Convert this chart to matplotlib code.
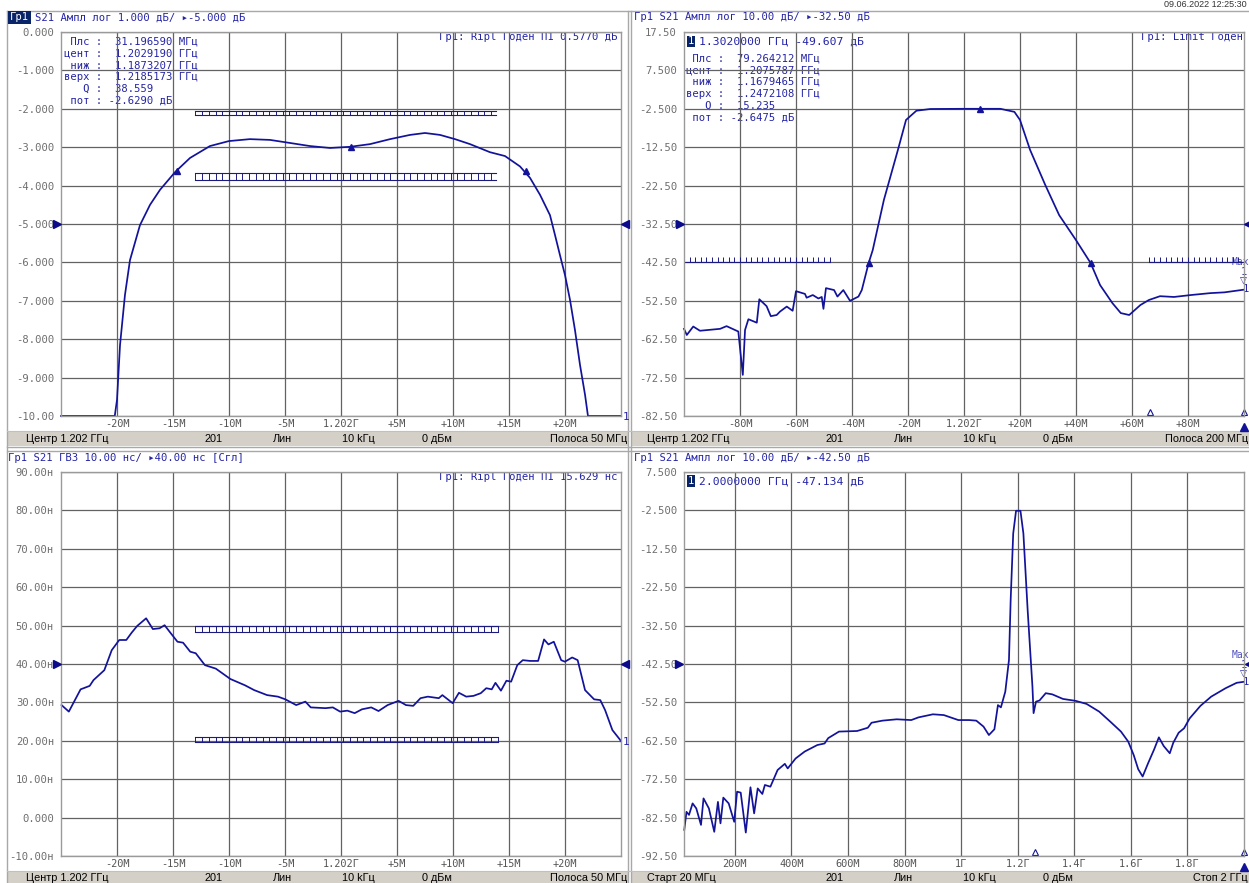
import matplotlib
matplotlib.use('Agg')
import matplotlib.pyplot as plt
from matplotlib.patches import Rectangle
import numpy as np

W, H = 1249, 883
MONO = ['DejaVu Sans Mono', 'DejaVu Sans']
SANS = ['Liberation Sans', 'DejaVu Sans']
TRACE = '#12129a'
TXT = '#2424a6'
GRID = '#626262'
LBL = '#6e6e6e'

# ---- top-left: S21 magnitude, centre 1.202 GHz, span 50 MHz (offset in MHz) ----
tl_df = [-25, -20.2, -20.0, -19.73, -19.29, -18.84, -17.95, -17.05, -16.16, -14.82, -13.48,
         -11.70, -10.0, -8.13, -6.34, -4.55, -2.77, -0.98, 0.80, 2.59, 4.38, 6.16, 7.5, 8.84,
         10.18, 11.52, 13.30, 14.64, 15.98, 16.88, 17.77, 18.66, 19.11, 19.55, 20.0, 20.45,
         20.89, 21.34, 21.79, 22.05, 25]
tl_db = [-10, -10, -9.58, -8.15, -6.85, -5.94, -5.03, -4.5, -4.11, -3.65, -3.28,
         -2.97, -2.84, -2.79, -2.81, -2.89, -2.97, -3.02, -2.99, -2.92, -2.79, -2.68, -2.63, -2.68,
         -2.79, -2.92, -3.13, -3.23, -3.50, -3.80, -4.24, -4.77, -5.29, -5.81, -6.33, -6.98,
         -7.76, -8.67, -9.45, -10, -10]
tl_mk_df = [-14.68, 0.92, 16.52]
tl_mk_db = [-3.63, -3.0, -3.63]
tl_lim_span = [-13.0, 13.8]
tl_lim_hi = [-2.05, -2.17]
tl_lim_lo = [-3.68, -3.85]

# ---- top-right: S21 magnitude, centre 1.202 GHz, span 200 MHz ----
tr_df = [-100, -99, -96.7, -94.3, -87.1, -84.8, -80.6, -79.8, -79.0, -78.2, -77.0, -74.0, -73.1,
         -70.5, -69.0, -66.9, -65.7, -63.3, -61.2, -60.0, -56.8, -56.2, -54.0, -52.0, -50.8, -50.2,
         -49.3, -46.4, -45.2, -43.1, -40.7, -37.7, -36.5, -34.05, -32.6, -28.6, -23.6, -20.7, -17,
         -12, 0, 13, 18, 20, 23.6, 29, 34, 40, 45.21, 48.6, 53, 56, 59, 63, 66, 70, 75, 81, 88, 93, 100]
tr_db = [-59.8, -61.4, -59.2, -60.3, -59.8, -59.1, -60.5, -66.2, -71.8, -60.1, -57.3, -58.2, -52.1,
         -53.9, -56.5, -56.2, -55.3, -54.0, -55.1, -50.0, -50.7, -51.7, -51.0, -51.9, -51.5, -54.6,
         -49.2, -49.7, -51.4, -49.7, -52.5, -51.4, -49.7, -42.65, -39.3, -26.2, -13.2, -5.4, -3.0,
         -2.55, -2.5, -2.5, -3.3, -5.4, -13.2, -22.3, -30.2, -36.7, -42.65, -48.4, -53.1, -55.7,
         -56.2, -53.6, -52.3, -51.3, -51.5, -51.0, -50.5, -50.3, -49.6]
tr_mk_df = [5.58, -34.05, 45.21]
tr_mk_db = [-2.65, -42.65, -42.65]
tr_lim_left = [-100, -48]
tr_lim_right = [66, 100]
tr_lim_db = -42.5

# ---- bottom-left: group delay, ns ----
bl_df = [-24.95, -24.3, -23.25, -22.44, -22.1, -21.13, -20.47, -19.8, -19.17, -18.68, -18.2, -17.4,
         -16.8, -16.2, -15.75, -15.25, -14.6, -14.1, -13.46, -12.97, -12.15, -11.18, -9.88, -8.57,
         -7.75, -6.6, -5.63, -4.97, -4.0, -3.18, -2.7, -1.38, -0.73, -0.08, 0.57, 1.22, 1.87, 2.7,
         3.35, 4.16, 5.14, 5.8, 6.45, 7.1, 7.75, 8.73, 9.05, 9.97, 10.53, 11.18, 11.83, 12.48,
         12.97, 13.46, 13.79, 14.28, 14.77, 15.19, 15.74, 16.23, 16.88, 17.6, 18.13, 18.52, 19.0,
         19.66, 19.99, 20.64, 21.13, 21.79, 22.6, 23.15, 23.58, 24.23, 24.88, 25.0]
bl_ns = [29.3, 27.6, 33.4, 34.3, 35.8, 38.4, 43.6, 46.25, 46.25, 48.2, 49.9, 51.9,
         49.1, 49.3, 50.1, 48.2, 45.8, 45.55, 43.2, 42.8, 39.7, 38.8, 36.1, 34.45,
         33.2, 31.9, 31.5, 30.8, 29.3, 30.2, 28.7, 28.5, 28.7, 27.6, 27.85, 27.2, 28.2, 28.7,
         27.75, 29.3, 30.4, 29.3, 29.1, 31.1, 31.5, 31.1, 31.9, 29.8, 32.5, 31.5, 31.7, 32.4,
         33.7, 33.4, 35.1, 33.05, 35.65, 35.4, 39.7, 41.0, 40.8, 40.8, 46.4, 45.1, 45.8,
         41.0, 40.6, 41.7, 41.0, 33.2, 30.8, 30.6, 28.0, 22.8, 20.4, 19.9]
bl_lim_span = [-13.0, 14.0]
bl_lim_hi = [49.9, 48.3]
bl_lim_lo = [21.1, 19.7]

# ---- bottom-right: S21 magnitude, 20 MHz .. 2 GHz ----
br_f = [21, 28.8, 37.7, 50.4, 63.4, 80.1, 89, 108, 127, 140, 149, 159, 178, 197.5, 207.7, 220.5,
        238.5, 255, 268, 280.6, 297, 306, 325.5, 351, 376.5, 386.7, 414.6, 446.7, 491.4, 517, 530,
        568, 632, 670, 683, 721.5, 772, 823.5, 849, 900, 938.6, 990, 1028, 1053.5, 1079, 1098,
        1117.5, 1130, 1140.5, 1156, 1169, 1175, 1184, 1194, 1209.6, 1220, 1235, 1252, 1256, 1264.6,
        1277, 1299, 1322, 1360, 1405, 1443.5, 1488, 1527, 1565, 1590.6, 1610, 1626, 1641.6, 1660.6,
        1682.5, 1699, 1716, 1737.5, 1750, 1769, 1788, 1808, 1846, 1884, 1935, 1974, 2000]
br_db = [-85.7, -81.0, -81.8, -78.8, -80.1, -84.4, -77.5, -80.1, -86.2, -78.4, -84.0, -77.3, -78.8,
         -83.6, -75.75, -76.0, -86.4, -74.6, -81.4, -74.9, -76.35, -74.0, -74.45, -70.1, -68.5,
         -69.7, -67.1, -65.3, -63.6, -63.2, -61.8, -60.1, -59.95, -59.1, -57.8, -57.25, -56.9,
         -57.1, -56.4, -55.6, -55.8, -57.1, -57.1, -57.25, -58.8, -61.0, -59.5, -53.2, -53.8,
         -49.7, -41.45, -25.8, -8.5, -2.6, -2.6, -8.5, -28.4, -48.4, -55.3, -52.3, -52.0, -50.1,
         -50.4, -51.6, -52.1, -52.9, -54.9, -57.5, -60.1, -62.7, -66.2, -69.9, -71.8, -68.4,
         -64.7, -61.6, -63.85, -65.75, -63.0, -60.4, -59.25, -56.65, -53.4, -51.0, -48.8, -47.4,
         -47.13]

# axis ticks / labels
off50_ticks = [-20, -15, -10, -5, 0, 5, 10, 15, 20]
off50_labels = ['-20М', '-15М', '-10М', '-5М', '1.202Г', '+5М', '+10М', '+15М', '+20М']
off200_ticks = [-80, -60, -40, -20, 0, 20, 40, 60, 80]
off200_labels = ['-80М', '-60М', '-40М', '-20М', '1.202Г', '+20М', '+40М', '+60М', '+80М']
br_ticks = [200, 400, 600, 800, 1000, 1200, 1400, 1600, 1800]
br_labels = ['200М', '400М', '600М', '800М', '1Г', '1.2Г', '1.4Г', '1.6Г', '1.8Г']
tl_yticks = [0, -1, -2, -3, -4, -5, -6, -7, -8, -9, -10]
tl_ylabels = ['0.000', '-1.000', '-2.000', '-3.000', '-4.000', '-5.000', '-6.000',
              '-7.000', '-8.000', '-9.000', '-10.00']
tr_yticks = [17.5, 7.5, -2.5, -12.5, -22.5, -32.5, -42.5, -52.5, -62.5, -72.5, -82.5]
tr_ylabels = ['17.50', '7.500', '-2.500', '-12.50', '-22.50', '-32.50', '-42.50',
              '-52.50', '-62.50', '-72.50', '-82.50']
bl_yticks = [90, 80, 70, 60, 50, 40, 30, 20, 10, 0, -10]
bl_ylabels = ['90.00н', '80.00н', '70.00н', '60.00н', '50.00н', '40.00н', '30.00н',
              '20.00н', '10.00н', '0.000', '-10.00н']
br_yticks = [7.5, -2.5, -12.5, -22.5, -32.5, -42.5, -52.5, -62.5, -72.5, -82.5, -92.5]
br_ylabels = ['7.500', '-2.500', '-12.50', '-22.50', '-32.50', '-42.50', '-52.50',
              '-62.50', '-72.50', '-82.50', '-92.50']

fig = plt.figure(figsize=(W / 100, H / 100), dpi=100)
fig.patch.set_facecolor('white')

# background layer in pixel coordinates for window chrome
bg = fig.add_axes([0, 0, 1, 1])
bg.set_xlim(0, W)
bg.set_ylim(H, 0)
bg.axis('off')


def T(x, y, s, size=7.6, color=TXT, ha='left', fam=MONO, **kw):
    bg.text(x, y, s, fontsize=size, color=color, ha=ha, va='center', family=fam, **kw)


# status bars and separators
for x0, y0, w, h in [(8, 431, 620, 15), (632, 431, 617, 15), (8, 871, 620, 12), (632, 871, 617, 12)]:
    bg.add_patch(Rectangle((x0, y0), w, h, facecolor='#d4d0c8', edgecolor='none'))
for xv in [7.5, 628, 631.5]:
    bg.plot([xv, xv], [11, H], color='#a8a8a8', lw=1)
for yv in [11, 447, 451]:
    bg.plot([7.5, W], [yv, yv], color='#a8a8a8', lw=1)
bg.plot([7.5, W], [430.5, 430.5], color='#c0c0c0', lw=0.8)
bg.plot([7.5, W], [870.5, 870.5], color='#c0c0c0', lw=0.8)

T(1247, 4.5, '09.06.2022 12:25:30', ha='right', color='#333333', fam=SANS, size=6.5)

# headers
T(10, 17.5, 'Гр1', color='white', bbox=dict(facecolor='#0a246a', edgecolor='none', pad=1.2))
T(35, 17.5, 'S21 Ампл лог 1.000 дБ/ ▸-5.000 дБ')
T(634, 17.5, 'Гр1 S21 Ампл лог 10.00 дБ/ ▸-32.50 дБ')
T(8, 458, 'Гр1 S21 ГВЗ 10.00 нс/ ▸40.00 нс [Сгл]')
T(634, 458, 'Гр1 S21 Ампл лог 10.00 дБ/ ▸-42.50 дБ')

# status bar texts
status_top = ['201', 'Лин', '10 kГц', '0 дБм']
status_x = [205, 273, 342, 422]
for yy, first, last, xo in [(439, 'Центр 1.202 ГГц', 'Полоса 50 МГц', 0),
                            (439, 'Центр 1.202 ГГц', 'Полоса 200 МГц', 621),
                            (878, 'Центр 1.202 ГГц', 'Полоса 50 МГц', 0),
                            (878, 'Старт 20 МГц', 'Стоп 2 ГГц', 621)]:
    T(26 + xo, yy, first, color='black', fam=SANS, size=7.8)
    for s, x in zip(status_top, status_x):
        T(x + xo, yy, s, color='black', fam=SANS, size=7.8)
    T(627 + xo, yy, last, color='black', fam=SANS, size=7.8, ha='right')

# marker statistics
stats_tl = [' Плс :  31.196590 МГц', 'цент :  1.2029190 ГГц', ' ниж :  1.1873207 ГГц',
            'верх :  1.2185173 ГГц', '   Q :  38.559', ' пот : -2.6290 дБ']
stats_tr = [' Плс :  79.264212 МГц', 'цент :  1.2075787 ГГц', ' ниж :  1.1679465 ГГц',
            'верх :  1.2472108 ГГц', '   Q :  15.235', ' пот : -2.6475 дБ']
for i, s in enumerate(stats_tl):
    T(64, 41.7 + 11.8 * i, s)
for i, s in enumerate(stats_tr):
    T(686, 58.3 + 11.8 * i, s)
T(688, 41.5, '1', color='white', size=7.6, bbox=dict(facecolor='#0a246a', edgecolor='none', pad=0.6))
T(699, 41.5, '1.3020000 ГГц -49.607 дБ', size=8.2)
T(688, 481, '1', color='white', size=7.6, bbox=dict(facecolor='#0a246a', edgecolor='none', pad=0.6))
T(699, 481, '2.0000000 ГГц -47.134 дБ', size=8.2)
T(618, 36.5, 'Гр1: Ripl Годен П1 0.5770 дБ', ha='right')
T(1243, 36.5, 'Гр1: Limit Годен', ha='right')
T(618, 477.5, 'Гр1: Ripl Годен П1 15.629 нс', ha='right')

# right-edge marker tags
T(623, 417, '1', size=8)
T(623, 742, '1', size=8)
for y0 in [262, 655]:
    T(1232, y0, 'Max', size=7, color='#5050c0')
    T(1241, y0 + 10, '1', size=7.5)
    T(1240, y0 + 19, '▽', size=6.5, fam=['DejaVu Sans'])
    T(1243, y0 + 27, '1', size=7.5)


def panel(l, t, xlim, ylim, xticks, xlabels, yticks, ylabels):
    ax = fig.add_axes([l / W, 1 - (t + 384) / H, 560 / W, 384 / H])
    ax.set_facecolor('none')
    ax.set_xlim(*xlim)
    ax.set_ylim(*ylim)
    ax.set_xticks(xticks)
    ax.set_xticklabels(xlabels, family=MONO, fontsize=7.4, color='#555555')
    ax.set_yticks(yticks)
    ax.set_yticklabels(ylabels, family=MONO, fontsize=7.6, color=LBL)
    ax.tick_params(length=0, pad=2)
    ax.tick_params(axis='y', pad=5)
    ax.grid(True, color=GRID, lw=0.9)
    ax.set_axisbelow(True)
    for sp in ax.spines.values():
        sp.set_color('#9a9a9a')
        sp.set_linewidth(1)
    return ax


def ladder(ax, span, band, step):
    ax.plot(span, [band[0]] * 2, color='#1a1a80', lw=0.8)
    ax.plot(span, [band[1]] * 2, color='#1a1a80', lw=0.8)
    ax.vlines(np.arange(span[0], span[1] + 1e-6, step), band[1], band[0], color='#1a1a80', lw=0.7)


def ref_arrows(ax, x0, x1, yref):
    ax.plot(x0, yref, marker='>', ms=6, color='#0a0a8a', clip_on=False, zorder=5)
    ax.plot(x1, yref, marker='<', ms=6, color='#0a0a8a', clip_on=False, zorder=5)


# top-left
ax = panel(61, 32, (-25, 25), (-10, 0), off50_ticks, off50_labels, tl_yticks, tl_ylabels)
ladder(ax, tl_lim_span, tl_lim_hi, 0.6)
ladder(ax, tl_lim_span, tl_lim_lo, 0.6)
ax.plot(tl_df, tl_db, color=TRACE, lw=1.25, clip_on=False)
ax.plot(tl_mk_df, tl_mk_db, '^', color=TRACE, ms=5, ls='none')
ref_arrows(ax, -25.4, 25.4, -5.0)

# top-right
ax = panel(684, 32, (-100, 100), (-82.5, 17.5), off200_ticks, off200_labels, tr_yticks, tr_ylabels)
for span in [tr_lim_left, tr_lim_right]:
    ax.plot(span, [tr_lim_db] * 2, color='#1a1a80', lw=0.8)
    ax.vlines(np.arange(span[0], span[1] + 1e-6, 2.0), tr_lim_db, tr_lim_db + 1.4, color='#1a1a80', lw=0.7)
ax.plot(tr_df, tr_db, color=TRACE, lw=1.25, clip_on=False)
ax.plot(tr_mk_df, tr_mk_db, '^', color=TRACE, ms=5, ls='none')
ax.plot([66.4, 100], [-81.5, -81.5], '^', mfc='none', mec=TRACE, ms=5, mew=0.8, ls='none', clip_on=False)
ax.plot(100, -85.3, '^', color=TRACE, ms=6, clip_on=False)
ref_arrows(ax, -101.6, 101.6, -32.5)

# bottom-left
ax = panel(61, 472, (-25, 25), (-10, 90), off50_ticks, off50_labels, bl_yticks, bl_ylabels)
ladder(ax, bl_lim_span, bl_lim_hi, 0.6)
ladder(ax, bl_lim_span, bl_lim_lo, 0.6)
ax.plot(bl_df, bl_ns, color=TRACE, lw=1.25, clip_on=False)
ref_arrows(ax, -25.4, 25.4, 40.0)

# bottom-right
ax = panel(684, 472, (20, 2000), (-92.5, 7.5), br_ticks, br_labels, br_yticks, br_ylabels)
ax.plot(br_f, br_db, color=TRACE, lw=1.25, clip_on=False)
ax.plot([1261, 2000], [-91.5, -91.5], '^', mfc='none', mec=TRACE, ms=5, mew=0.8, ls='none', clip_on=False)
ax.plot(2000, -95.3, '^', color=TRACE, ms=6, clip_on=False)
ref_arrows(ax, 4, 2016, -42.5)

fig.savefig('out.png', dpi=100)
